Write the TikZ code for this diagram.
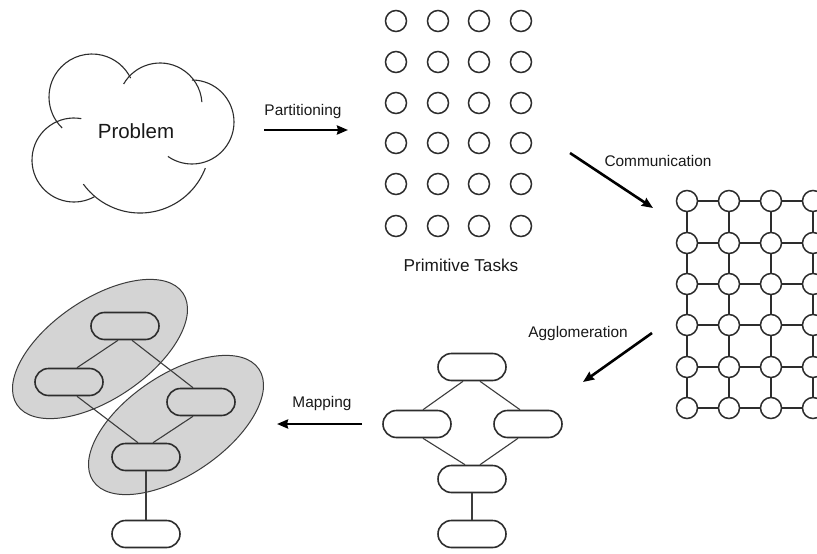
\documentclass[tikz,border=0pt]{standalone}
\usepackage{fontspec}
\setmainfont{Liberation Sans}
\usetikzlibrary{arrows.meta,shapes.misc}
\definecolor{linec}{RGB}{45,45,45}
\definecolor{edgec}{RGB}{60,60,60}
\definecolor{txtc}{RGB}{25,25,25}
\definecolor{clusterc}{RGB}{212,212,212}
\begin{document}
\begin{tikzpicture}[x=1pt,y=-1pt,
  cloudline/.style={draw=linec, line width=1.1pt},
  task/.style={circle, draw=linec, line width=1.5pt, minimum size=21pt, inner sep=0pt},
  mline/.style={draw=linec, line width=1.3pt},
  edge/.style={draw=edgec, line width=1.1pt},
  box/.style={rounded rectangle, draw=linec, line width=1.6pt, minimum width=68pt, minimum height=27pt, inner sep=0pt},
  bigarrow/.style={draw=black, line width=2.6pt, -{Stealth[length=11pt,width=9pt,inset=1pt]}},
  lab/.style={font=\fontsize{15.4}{18}\selectfont, text=txtc, inner sep=0pt},
  cluster/.style={fill=clusterc, draw=edgec, line width=1pt}]
\clip (0,0) rectangle (817,554);
\fill[white] (0,0) rectangle (817,554);

% Cloud
\draw[cloudline] (74,160) ++(280:42) arc (280:61:42);
\draw[cloudline] (92,97) ++(134:43) arc (134:334:43);
\draw[cloudline] (160,105) ++(210:42) arc (210:356:42);
\draw[cloudline] (192,122) ++(-90:42) arc (-90:125:42);
\draw[cloudline] (140,143) ++(21:70) arc (21:144:70);
\node[font=\fontsize{20.5}{24}\selectfont, text=txtc] (problem) at (136,131) {Problem};

% Primitive tasks
\foreach \x [count=\i] in {396,438,479,521}{
  \foreach \y [count=\j] in {21,62,103,143,184,226}{
    \node[task] (t-\i-\j) at (\x,\y) {};
  }
}
\node[font=\fontsize{17.2}{20}\selectfont, text=txtc] (ptlabel) at (461,265) {Primitive Tasks};

% Mesh
\foreach \x [count=\i] in {687,729,771,813}{
  \foreach \y [count=\j] in {201,243,284,325,367,408}{
    \node[task] (m-\i-\j) at (\x,\y) {};
  }
}
\foreach \i [evaluate=\i as \n using int(\i+1)] in {1,2,3}{
  \foreach \j in {1,...,6}{
    \draw[mline] (m-\i-\j) -- (m-\n-\j);
  }
}
\foreach \i in {1,...,4}{
  \foreach \j [evaluate=\j as \n using int(\j+1)] in {1,...,5}{
    \draw[mline] (m-\i-\j) -- (m-\i-\n);
  }
}

% Arrows and labels
\coordinate (a1s) at (264,130); \coordinate (a1e) at (348,130);
\draw[bigarrow] (a1s) -- (a1e);
\node[lab] (l1) at (303,112) {Partitioning};
\coordinate (a2s) at (570,153); \coordinate (a2e) at (653,208);
\draw[bigarrow] (a2s) -- (a2e);
\node[lab] (l2) at (658,161) {Communication};
\coordinate (a3s) at (652,333); \coordinate (a3e) at (583,382);
\draw[bigarrow] (a3s) -- (a3e);
\node[lab] (l3) at (578,334) {Agglomeration};
\coordinate (a4s) at (362,424); \coordinate (a4e) at (277,424);
\draw[bigarrow] (a4s) -- (a4e);
\node[lab] (l4) at (322,404) {Mapping};

% Agglomerated graph
\node[box] (b1) at (472,367) {};
\node[box] (b2) at (417,424) {};
\node[box] (b3) at (528,424) {};
\node[box] (b4) at (472,479) {};
\node[box] (b5) at (472,534) {};
\draw[edge] ([xshift=-9]b1.south) -- ([xshift=6]b2.north);
\draw[edge] ([xshift=8]b1.south) -- ([xshift=-8]b3.north);
\draw[edge] ([xshift=6]b2.south) -- ([xshift=-7]b4.north);
\draw[edge] ([xshift=-10]b3.south) -- ([xshift=8]b4.north);
\draw[edge] (b4) -- (b5);

% Mapped graph
\draw[cluster, rotate around={34:(100,349)}] (100,349) ellipse [x radius=100, y radius=50];
\draw[cluster, rotate around={34:(176,425)}] (176,425) ellipse [x radius=100, y radius=50];
\node[box, fill=clusterc] (c1) at (125,326) {};
\node[box, fill=clusterc] (c2) at (69,382) {};
\node[box, fill=clusterc] (c3) at (201,402) {};
\node[box, fill=clusterc] (c4) at (146,457) {};
\node[box, fill=white] (c5) at (146,534) {};
\draw[edge] ([xshift=-7]c1.south) -- ([xshift=8]c2.north);
\draw[edge] ([xshift=7]c1.south) -- ([xshift=-8]c3.north);
\draw[edge] ([xshift=8]c2.south) -- ([xshift=-8]c4.north);
\draw[edge] ([xshift=-8]c3.south) -- ([xshift=7]c4.north);
\draw[edge] (c4) -- (c5);
\end{tikzpicture}
\end{document}
